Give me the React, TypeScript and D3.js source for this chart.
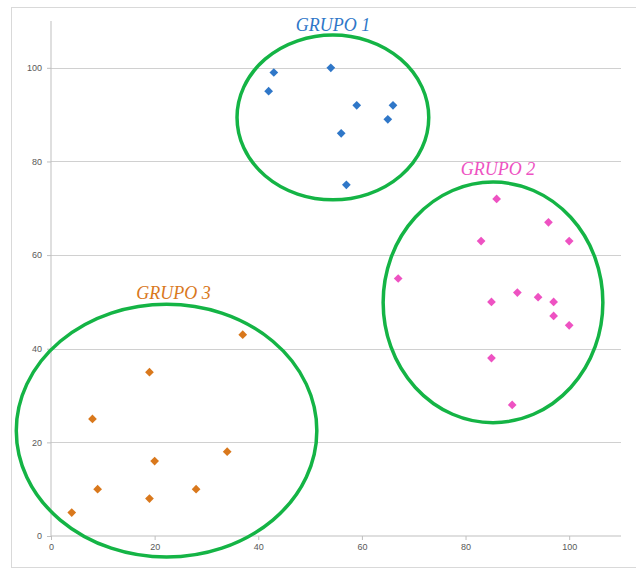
import * as d3 from 'd3';
import { useEffect, useRef } from 'react';

// group 1 (blue)
const g1X = [42, 43, 54, 59, 66, 65, 56, 57];
const g1Y = [95, 99, 100, 92, 92, 89, 86, 75];
// group 2 (pink)
const g2X = [86, 83, 96, 100, 67, 85, 90, 94, 97, 97, 100, 85, 89];
const g2Y = [72, 63, 67, 63, 55, 50, 52, 51, 50, 47, 45, 38, 28];
// group 3 (orange)
const g3X = [4, 9, 8, 19, 19, 20, 28, 34, 37];
const g3Y = [5, 10, 25, 35, 8, 16, 10, 18, 43];

const groupNames = ['GRUPO 1', 'GRUPO 2', 'GRUPO 3'];
const groupColors = ['#2f77c8', '#ee52c2', '#d9781c'];
// ellipse per group, in data units: cx, cy, rx, ry
const ellCx = [54.4, 85.3, 22.3];
const ellCy = [89.4, 49.9, 22.5];
const ellRx = [18.5, 21.2, 29];
const ellRy = [17.6, 25.7, 27];

const xTicks = [0, 20, 40, 60, 80, 100];
const yTicks = [0, 20, 40, 60, 80, 100];

export default function App() {
    const ref = useRef<SVGSVGElement>(null);

    const width = 636,
        height = 570;
    const margin = { top: 21, right: 15, bottom: 34, left: 51 };

    useEffect(() => {
        const svg = d3.select(ref.current);
        svg.selectAll('*').remove();

        const x = d3
            .scaleLinear()
            .domain([0, 110])
            .range([margin.left, width - margin.right]);
        const y = d3
            .scaleLinear()
            .domain([0, 110])
            .range([height - margin.bottom, margin.top]);

        // outer frame
        svg.append('rect')
            .attr('x', 11.5)
            .attr('y', 7.5)
            .attr('width', width)
            .attr('height', 560)
            .attr('fill', '#fff')
            .attr('stroke', '#d9d9d9');

        // gridlines
        svg.append('g')
            .selectAll('line')
            .data(yTicks.filter((t) => t > 0))
            .join('line')
            .attr('x1', x(0))
            .attr('x2', x(110))
            .attr('y1', (d) => Math.round(y(d)) + 0.5)
            .attr('y2', (d) => Math.round(y(d)) + 0.5)
            .attr('stroke', '#d0d0d0')
            .attr('stroke-width', 1.2);

        const yAxis = svg
            .append('g')
            .attr('transform', `translate(${x(0)},0)`)
            .call(d3.axisLeft(y).tickValues(yTicks).tickSize(4).tickPadding(5));
        const xAxis = svg
            .append('g')
            .attr('transform', `translate(0,${y(0)})`)
            .call(d3.axisBottom(x).tickValues(xTicks).tickSize(4).tickPadding(4));
        [xAxis, yAxis].forEach((a) => {
            a.selectAll('path').attr('stroke', '#bfbfbf');
            a.selectAll('line').attr('stroke', '#bfbfbf');
            a.selectAll('text')
                .attr('fill', '#595959')
                .attr('font-size', 9)
                .attr('font-family', 'Liberation Sans, Arial, sans-serif');
        });
        xAxis.select('.domain').attr('d', `M${x(0)},0H${x(110)}`);
        yAxis.select('.domain').attr('d', `M0,${y(0)}V${y(110)}`);

        const groups = [
            { xs: g1X, ys: g1Y },
            { xs: g2X, ys: g2Y },
            { xs: g3X, ys: g3Y },
        ];
        const diamond = d3.symbol(d3.symbolSquare, 38);

        groups.forEach((g, i) => {
            svg.append('g')
                .selectAll('path')
                .data(g.xs.map((v, j) => [v, g.ys[j]]))
                .join('path')
                .attr('d', diamond())
                .attr('transform', (d) => `translate(${x(d[0])},${y(d[1])}) rotate(45)`)
                .attr('fill', groupColors[i]);
        });

        // cluster ellipses
        svg.append('g')
            .selectAll('ellipse')
            .data(ellCx.map((c, i) => i))
            .join('ellipse')
            .attr('cx', (i) => x(ellCx[i]))
            .attr('cy', (i) => y(ellCy[i]))
            .attr('rx', (i) => x(ellRx[i]) - x(0))
            .attr('ry', (i) => y(0) - y(ellRy[i]))
            .attr('fill', 'none')
            .attr('stroke', '#14b445')
            .attr('stroke-width', 3.5);

        // group labels
        svg.append('g')
            .selectAll('text')
            .data(groupNames)
            .join('text')
            .attr('x', (d, i) => x(ellCx[i]) + [0, 5, 7][i])
            .attr('y', (d, i) => y(ellCy[i] + ellRy[i]) - [4, 7, 5][i])
            .attr('text-anchor', 'middle')
            .attr('font-family', 'Liberation Serif, Times New Roman, serif')
            .attr('font-style', 'italic')
            .attr('font-size', 18)
            .attr('fill', (d, i) => groupColors[i])
            .text((d) => d);
    }, []);

    return (
        <svg
            ref={ref}
            width={width}
            height={height}
            style={{ position: 'absolute', left: 0, top: 0 }}
        />
    );
}
